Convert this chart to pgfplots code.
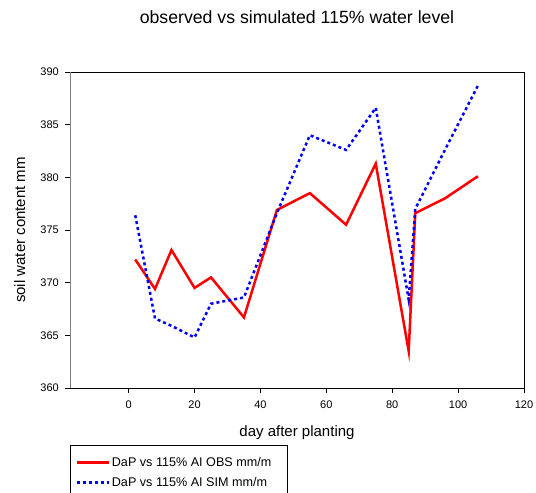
\documentclass[border=0pt]{standalone}
\usepackage{pgfplots}
\pgfplotsset{compat=1.18}
\usepackage{fontspec}
\setmainfont{Liberation Sans}

\begin{document}
\begin{tikzpicture}
\begin{axis}[name=ax,
  scale only axis, width=454bp, height=316bp,
  xmin=-17.8, xmax=120, ymin=360, ymax=390,
  xtick={0,20,...,120}, ytick={360,365,...,390},
  tick align=outside, major tick length=5bp,
  xtick pos=bottom, ytick pos=left,
  axis line style={black, line width=0.8bp},
  tick style={black, line width=0.8bp},
  /pgf/number format/assume math mode=true,
  ticklabel style={font=\fontsize{11bp}{13bp}\selectfont, inner sep=0pt},
  xticklabel shift=7.7bp, yticklabel shift=6bp,
  title={observed vs simulated 115\% water level},
  title style={font=\fontsize{17.7bp}{20bp}\selectfont, at={(0.5,1.1361)}, anchor=base, yshift=0pt},
  xlabel={day after planting},
  xlabel style={font=\fontsize{15bp}{18bp}\selectfont, at={(0.5,-0.155)}, anchor=base},
  ylabel={soil water content mm},
  ylabel style={font=\fontsize{15bp}{18bp}\selectfont, at={(-0.0991,0.5)}, anchor=base},
  legend style={at={(0,-0.1804)}, anchor=north west, draw=black, line width=0.8bp,
    font=\fontsize{12.6bp}{15bp}\selectfont, inner xsep=5bp, inner ysep=10bp,
    nodes={inner sep=2bp}, row sep=5bp},
  legend cell align=left,
  legend image code/.code={\draw[#1] (0bp,0bp) -- (32bp,0bp);},
]
\addplot[red, line width=2.5bp, mark=none] coordinates {
(2,372.2) (8,369.4) (13,373.1) (20,369.5) (25,370.5) (35,366.7) (45,376.9)
(55,378.5) (66,375.5) (75,381.3) (85,363.5) (87,376.6) (96,378.0) (106,380.1)};
\addlegendentry{DaP vs 115\% AI OBS mm/m\rule{9bp}{0pt}}
\addplot[blue, line width=2.5bp, dash pattern=on 3bp off 3bp, mark=none] coordinates {
(2,376.4) (8,366.6) (13,365.9) (20,364.8) (25,368.0) (35,368.6) (45,376.6)
(55,384.0) (66,382.6) (75,386.6) (85,368.4) (87,377.0) (96,382.6) (106,388.7)};
\addlegendentry{DaP vs 115\% AI SIM mm/m}
\draw[gray, line width=2bp] (rel axis cs:0,0) -- (rel axis cs:0,1);
\end{axis}
\pgfresetboundingbox
\path[use as bounding box] ([shift={(-70bp,-105bp)}]ax.south west) rectangle ([shift={(12bp,72bp)}]ax.north east);
\end{tikzpicture}
\end{document}
